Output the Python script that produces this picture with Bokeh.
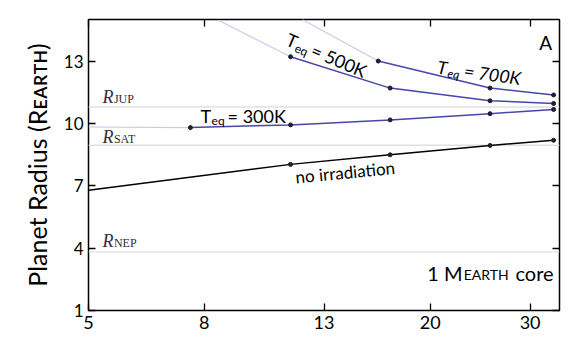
import math
from bokeh.plotting import figure
from bokeh.models import Range1d, FixedTicker, LogAxis, LinearAxis, Span, BasicTickFormatter
from bokeh.core.properties import value
from bokeh.embed import file_html
from bokeh.resources import INLINE

# ---------------- data ----------------
x_ticks = [5, 8, 13, 20, 30]
y_ticks = [1, 4, 7, 10, 13]

r_jup = 10.79
r_sat = 8.95
r_nep = 3.82

# no irradiation (line starts at left edge, markers at the last four)
noirr_x = [5.0, 11.35, 17.0, 25.5, 33.0]
noirr_y = [6.79, 8.03, 8.49, 8.94, 9.19]

# Teq = 300K
t300_x = [7.56, 11.35, 17.0, 25.5, 33.0]
t300_y = [9.80, 9.93, 10.17, 10.47, 10.67]
t300_fx = [5.0, 7.56]
t300_fy = [9.83, 9.80]

# Teq = 500K
t500_x = [11.35, 17.0, 25.5, 33.0]
t500_y = [13.21, 11.70, 11.09, 10.96]
t500_fx = [8.47, 11.35]
t500_fy = [14.96, 13.21]

# Teq = 700K
t700_x = [16.2, 25.5, 33.0]
t700_y = [13.0, 11.70, 11.37]
t700_fx = [11.9, 16.2]
t700_fy = [15.0, 13.0]

# ---------------- figure ----------------
FONT = "Lato"
BLUE = "#4747a9"
FAINT = "#c9c9e8"
DOT = "#1e1e30"
SHIFT = -5  # screen-pixel correction of the text baseline

p = figure(width=574, height=347, x_axis_type="log",
           x_range=Range1d(5, 33.8), y_range=Range1d(1, 15),
           output_backend="svg", toolbar_location=None,
           min_border_left=88, min_border_right=15,
           min_border_top=19, min_border_bottom=37)
p.grid.visible = False
p.outline_line_color = "black"
p.outline_line_width = 1.5
p.background_fill_color = "white"
p.border_fill_color = "white"

def style_axis(ax, show_labels=True):
    ax.axis_line_color = None
    ax.major_tick_in = 7
    ax.major_tick_out = 0
    ax.major_tick_line_color = "black"
    ax.major_tick_line_width = 1.3
    ax.minor_tick_line_color = None
    ax.major_label_text_font = FONT
    ax.major_label_text_color = "black"
    ax.major_label_standoff = 5
    if not show_labels:
        ax.major_label_text_font_size = "0px"
        ax.major_label_text_alpha = 0

p.xaxis.ticker = FixedTicker(ticks=x_ticks)
p.xaxis.formatter = BasicTickFormatter()
p.yaxis.ticker = FixedTicker(ticks=y_ticks)
style_axis(p.xaxis[0])
style_axis(p.yaxis[0])
p.xaxis.major_label_text_font_size = "18px"
p.yaxis.major_label_text_font_size = "17px"
p.yaxis.axis_label = "Planet Radius (R\u1d07\u1d00\u0280\u1d1b\u029c)"
p.yaxis.axis_label_text_font = FONT
p.yaxis.axis_label_text_font_style = "normal"
p.yaxis.axis_label_text_font_size = "25px"
p.yaxis.axis_label_text_color = "black"
p.yaxis.axis_label_standoff = 9

top = LogAxis(ticker=FixedTicker(ticks=x_ticks))
style_axis(top, show_labels=False)
p.add_layout(top, "above")
right = LinearAxis(ticker=FixedTicker(ticks=y_ticks))
style_axis(right, show_labels=False)
p.add_layout(right, "right")

# reference radii (drawn beneath the curves)
for r in (r_jup, r_sat, r_nep):
    p.add_layout(Span(location=r, dimension="width", line_color="#e0e0e0",
                      line_width=1.3, level="underlay"))

# faint extensions
for fx, fy in ((t300_fx, t300_fy), (t500_fx, t500_fy), (t700_fx, t700_fy)):
    p.line(fx, fy, line_color=FAINT, line_width=1.1)

# curves
p.line(noirr_x, noirr_y, line_color="black", line_width=1.5)
p.scatter(noirr_x[1:], noirr_y[1:], size=4, color=DOT)
for cx, cy in ((t300_x, t300_y), (t500_x, t500_y), (t700_x, t700_y)):
    p.line(cx, cy, line_color=BLUE, line_width=1.5)
    p.scatter(cx, cy, size=4, color=DOT)

# ---------------- labels ----------------
def txt(x, y, s, size, angle=0.0, dx=0.0, dy=0.0, font=FONT, style="normal",
        align="left", color="black"):
    p.text(x=[x], y=[y], text=[s], angle=angle, x_offset=dx, y_offset=dy + SHIFT,
           text_font=value(font), text_font_style=style,
           text_font_size=size, text_align=align,
           text_baseline="alphabetic", text_color=color)

def teq_label(x, y, suffix, angle_deg, style="normal"):
    a = math.radians(angle_deg)
    def off(d, s):
        return d * math.cos(a) + s * math.sin(a), -d * math.sin(a) + s * math.cos(a)
    txt(x, y, "T", "18px", angle=a, style=style)
    dx, dy = off(11, 5)
    txt(x, y, "eq", "12px", angle=a, dx=dx, dy=dy, style=style)
    dx, dy = off(27, 0)
    txt(x, y, "= " + suffix, "18px", angle=a, dx=dx, dy=dy, style=style)

teq_label(7.88, 10.13, "300K", 0)
teq_label(11.2, 13.85, "500K", -23)
teq_label(20.6, 12.5, "700K", -8, style="italic")

txt(11.58, 7.18, "no irradiation", "17px", angle=math.radians(5.5))

txt(32.8, 13.67, "A", "19px", align="right")

# 1 M_EARTH core
txt(33.0, 2.565, "core", "20px", align="right")
txt(33.0, 2.565, "EARTH", "14px", align="right", dx=-45, dy=2)
txt(33.0, 2.565, "1 M", "20px", align="right", dx=-91)

# reference-radius labels
RCOL = "#2e2e3e"
for ly, sub in ((11.04, "JUP"), (9.13, "SAT"), (4.11, "NEP")):
    txt(5.29, ly, "R", "18px", font="Liberation Serif", style="italic", color=RCOL)
    txt(5.29, ly, sub, "12px", font="Liberation Serif", dx=11.5, dy=2, color=RCOL)

open("out.html", "w").write(file_html(p, INLINE))
